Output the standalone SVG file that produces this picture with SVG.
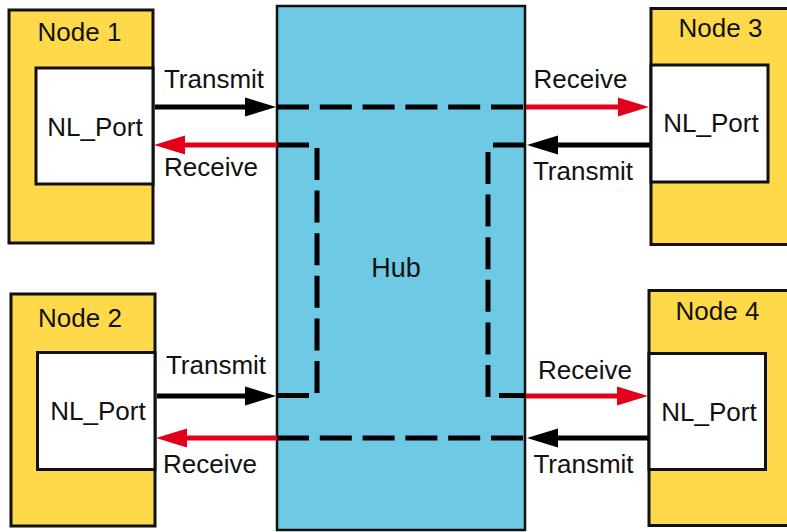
<svg xmlns="http://www.w3.org/2000/svg" width="787" height="532" viewBox="0 0 787 532">
<style>
.node{fill:#FFD94A;stroke:#111;stroke-width:3}
.port{fill:#fff;stroke:#111;stroke-width:3}
.hub{fill:#6EC9E5;stroke:#111;stroke-width:2.5}
text{font-family:"Liberation Sans",Arial,sans-serif;font-size:26px;fill:#111;text-anchor:middle}
.blk{stroke:#000;stroke-width:5;fill:none}
.red{stroke:#E2001A;stroke-width:5;fill:none}
.dh{stroke:#000;stroke-width:5;fill:none;stroke-dasharray:32 10.8}
.dv{stroke:#000;stroke-width:5;fill:none;stroke-dasharray:32 10.6}
</style>
<defs>
<marker id="ab" markerUnits="userSpaceOnUse" viewBox="0 0 33 20" refX="2" refY="10" markerWidth="33" markerHeight="20" orient="auto">
<path d="M0,0.5 L31,10 L0,19.5 Z" fill="#000"/>
</marker>
<marker id="ar" markerUnits="userSpaceOnUse" viewBox="0 0 33 20" refX="2" refY="10" markerWidth="33" markerHeight="20" orient="auto">
<path d="M0,0.5 L31,10 L0,19.5 Z" fill="#E2001A"/>
</marker>
</defs>
<g id="hub">
<rect class="hub" x="277" y="6" width="248" height="524"/>
<text x="396" y="277" style="font-size:27px">Hub</text>
</g>
<g id="node1">
<rect class="node" x="9" y="10" width="144" height="233"/>
<rect class="port" x="36" y="68" width="117" height="116"/>
<text x="79.5" y="41">Node 1</text>
<text x="95" y="136">NL_Port</text>
</g>
<g id="node2">
<rect class="node" x="11" y="294" width="144" height="232"/>
<rect class="port" x="37.5" y="352.5" width="117.5" height="117"/>
<text x="80" y="327">Node 2</text>
<text x="98" y="420">NL_Port</text>
</g>
<g id="node3">
<rect class="node" x="651" y="8.5" width="150" height="236"/>
<rect class="port" x="651" y="65" width="117" height="117"/>
<text x="720.5" y="37">Node 3</text>
<text x="711" y="132">NL_Port</text>
</g>
<g id="node4">
<rect class="node" x="649" y="290.5" width="150" height="235"/>
<rect class="port" x="649" y="353.5" width="116.5" height="116"/>
<text x="717.5" y="319.5">Node 4</text>
<text x="709" y="421">NL_Port</text>
</g>
<g id="connectors">
<line class="blk" x1="155" y1="107" x2="247" y2="107" marker-end="url(#ab)"/>
<line class="red" x1="278" y1="145" x2="183" y2="145" marker-end="url(#ar)"/>
<line class="red" x1="526" y1="107" x2="620" y2="107" marker-end="url(#ar)"/>
<line class="blk" x1="650" y1="145" x2="556" y2="145" marker-end="url(#ab)"/>
<line class="blk" x1="157" y1="396" x2="247" y2="396" marker-end="url(#ab)"/>
<line class="red" x1="278" y1="438" x2="185" y2="438" marker-end="url(#ar)"/>
<line class="red" x1="526" y1="396" x2="619" y2="396" marker-end="url(#ar)"/>
<line class="blk" x1="648" y1="438" x2="556" y2="438" marker-end="url(#ab)"/>
<line class="dh" x1="277" y1="107" x2="525" y2="107"/>
<line class="dh" x1="277" y1="438" x2="525" y2="438"/>
<line class="blk" x1="277" y1="145" x2="309" y2="145"/>
<line class="dv" x1="317" y1="148" x2="317" y2="393"/>
<line class="blk" x1="277" y1="395.5" x2="309" y2="395.5"/>
<line class="blk" x1="493" y1="145" x2="525" y2="145"/>
<line class="dv" x1="488" y1="152" x2="488" y2="397"/>
<line class="blk" x1="499" y1="395.5" x2="525" y2="395.5"/>
<text x="214" y="88">Transmit</text>
<text x="211" y="176">Receive</text>
<text x="580.5" y="88">Receive</text>
<text x="583" y="180">Transmit</text>
<text x="216" y="374">Transmit</text>
<text x="210" y="473">Receive</text>
<text x="585" y="379">Receive</text>
<text x="583.5" y="473">Transmit</text>
</g>
</svg>
